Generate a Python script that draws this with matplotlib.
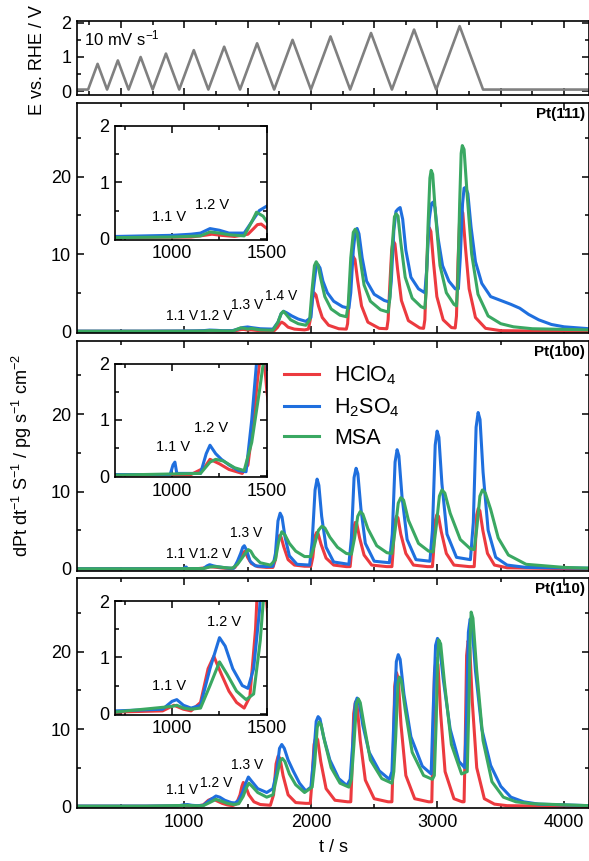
import matplotlib
matplotlib.use("Agg")
import matplotlib.pyplot as plt
from matplotlib.ticker import MultipleLocator

plt.rcParams['font.family'] = ['Liberation Sans', 'DejaVu Sans']
plt.rcParams['mathtext.fontset'] = 'custom'
plt.rcParams['mathtext.rm'] = 'Liberation Sans'
plt.rcParams['mathtext.it'] = 'Liberation Sans:italic'
plt.rcParams['mathtext.bf'] = 'Liberation Sans:bold'

# ---------------- data ----------------
E_time = [150, 240, 315, 390, 475, 560, 655, 750, 855, 960, 1075, 1190, 1315, 1440,
          1575, 1710, 1855, 2000, 2155, 2310, 2475, 2640, 2815, 2990, 3175, 3360, 4200]
E_volt = [0.05, 0.05, 0.8, 0.05, 0.9, 0.05, 1.0, 0.05, 1.1, 0.05, 1.2, 0.05, 1.3, 0.05,
          1.4, 0.05, 1.5, 0.05, 1.6, 0.05, 1.7, 0.05, 1.8, 0.05, 1.9, 0.05, 0.05]

series_labels = ['HClO$_4$', 'H$_2$SO$_4$', 'MSA']
series_colors = ['#ec3a3f', '#1f6fde', '#3aa862']
panel_names = ['Pt(111)', 'Pt(100)', 'Pt(110)']

# ---- Pt(111)
t111_red = [150, 700, 1100, 1170, 1210, 1260, 1330, 1400, 1430, 1450, 1470, 1500, 1530, 1580, 1650, 1710,
            1735, 1755, 1770, 1790, 1820, 1870, 1950,
            1980, 1995, 2010, 2025, 2040, 2060, 2090, 2140, 2220, 2280,
            2290, 2305, 2320, 2333, 2348, 2370, 2400, 2450, 2540, 2600,
            2610, 2625, 2638, 2650, 2664, 2685, 2715, 2770, 2860, 2890,
            2900, 2912, 2924, 2935, 2948, 2968, 2995, 3045, 3110, 3140,
            3150, 3162, 3175, 3187, 3200, 3220, 3250, 3300, 3380, 3500, 4200]
y111_red = [0.02, 0.02, 0.03, 0.06, 0.08, 0.06, 0.04, 0.08, 0.18, 0.25, 0.26, 0.18, 0.2, 0.12, 0.1, 0.1,
            0.5, 1.0, 1.2, 1.0, 0.55, 0.3, 0.2,
            0.3, 1.5, 4.0, 5.0, 4.7, 3.3, 1.8, 0.8, 0.35, 0.3,
            1.0, 5.0, 8.8, 9.7, 9.3, 6.5, 3.3, 1.2, 0.4, 0.35,
            1.5, 6.5, 10.5, 11.7, 11.3, 8.0, 4.0, 1.4, 0.45, 0.4,
            1.5, 7.0, 12.0, 13.4, 12.9, 9.0, 4.5, 1.5, 0.5, 0.45,
            2.0, 9.0, 14.5, 15.8, 15.3, 11.0, 5.5, 1.8, 0.4, 0.1, 0.0]
t111_blue = [150, 700, 1000, 1100, 1150, 1200, 1250, 1300, 1380, 1420, 1460, 1500, 1530, 1600, 1700, 1740,
             1765, 1785, 1810, 1850, 1900, 1960,
             2000, 2020, 2040, 2057, 2072, 2095, 2130, 2180, 2250, 2300,
             2315, 2335, 2352, 2365, 2380, 2405, 2440, 2500, 2580, 2620,
             2635, 2655, 2672, 2688, 2705, 2725, 2750, 2790, 2850, 2900,
             2915, 2935, 2952, 2965, 2980, 3005, 3040, 3090, 3140, 3165,
             3180, 3198, 3210, 3222, 3240, 3265, 3300, 3350, 3420, 3500, 3580, 3650, 3720, 3800, 3900,
             4000, 4200]
y111_blue = [0.04, 0.04, 0.06, 0.08, 0.1, 0.18, 0.15, 0.1, 0.1, 0.3, 0.5, 0.58, 0.5, 0.35, 0.3, 1.2,
             2.3, 2.6, 2.4, 2.0, 1.6, 1.3,
             1.8, 5.5, 8.2, 8.6, 8.2, 6.5, 5.0, 3.9, 3.2, 3.0,
             5.0, 10.5, 13.0, 13.3, 12.6, 9.5, 6.5, 4.8, 4.0, 3.8,
             6.5, 13.0, 15.5, 15.8, 16.0, 14.5, 10.5, 7.0, 5.5, 5.0,
             8.0, 14.5, 16.5, 16.7, 16.0, 12.0, 8.5, 6.5, 5.5, 5.5,
             9.5, 16.5, 18.5, 18.6, 17.8, 13.5, 9.0, 6.2, 4.5, 4.0, 3.5, 3.0, 2.2, 1.5, 0.9,
             0.6, 0.35]
t111_green = [150, 700, 1000, 1150, 1200, 1250, 1300, 1380, 1420, 1445, 1480, 1500, 1530, 1600, 1700, 1740,
              1765, 1782, 1800, 1840, 1900, 1960,
              1990, 2010, 2028, 2042, 2056, 2078, 2110, 2160, 2230, 2280,
              2295, 2315, 2335, 2350, 2365, 2388, 2420, 2470, 2550, 2610,
              2625, 2642, 2660, 2673, 2688, 2710, 2745, 2800, 2870, 2900,
              2910, 2925, 2940, 2950, 2962, 2985, 3020, 3070, 3130, 3150,
              3160, 3175, 3187, 3196, 3210, 3235, 3270, 3320, 3400, 3500, 3600, 3750, 4200]
y111_green = [0.02, 0.02, 0.03, 0.05, 0.12, 0.1, 0.07, 0.05, 0.3, 0.47, 0.4, 0.3, 0.4, 0.2, 0.15, 1.2,
              2.3, 2.6, 2.3, 1.5, 1.0, 0.8,
              1.5, 5.5, 8.5, 9.0, 8.6, 6.8, 4.5, 2.9, 2.1, 1.9,
              3.5, 9.5, 12.8, 13.2, 12.7, 9.5, 6.0, 3.9, 2.8, 2.5,
              4.5, 11.0, 14.8, 15.2, 14.9, 11.5, 7.0, 4.3, 3.2, 3.0,
              5.0, 13.5, 19.8, 20.8, 20.3, 15.0, 8.5, 5.0, 3.5, 3.3,
              6.0, 16.5, 23.0, 24.0, 23.5, 17.5, 10.0, 4.8, 2.0, 1.0, 0.6, 0.35, 0.2]

# ---- Pt(100)
t100_red = [150, 700, 1100, 1170, 1200, 1250, 1300, 1370, 1400, 1430, 1450, 1465, 1480, 1500, 1530, 1580,
            1650, 1700,
            1720, 1735, 1750, 1765, 1785, 1820, 1870, 1950, 2000,
            2015, 2032, 2045, 2058, 2080, 2120, 2180, 2280, 2310,
            2320, 2337, 2350, 2363, 2385, 2420, 2480, 2600, 2640,
            2648, 2662, 2675, 2688, 2710, 2750, 2810, 2920, 2960,
            2968, 2982, 2995, 3008, 3030, 3070, 3130, 3250, 3290,
            3298, 3310, 3322, 3335, 3358, 3395, 3450, 3550, 4200]
y100_red = [0.02, 0.02, 0.03, 0.15, 0.3, 0.22, 0.12, 0.05, 0.2, 1.0, 1.7, 2.1, 2.3, 1.5, 0.7, 0.3,
            0.2, 0.2,
            1.2, 3.5, 4.3, 4.1, 2.9, 1.2, 0.5, 0.35, 0.35,
            1.5, 4.2, 4.7, 4.5, 3.2, 1.4, 0.5, 0.3, 0.3,
            2.0, 5.3, 6.0, 5.8, 4.0, 1.8, 0.5, 0.3, 0.3,
            2.0, 6.0, 6.8, 6.6, 4.5, 2.0, 0.5, 0.3, 0.3,
            2.0, 6.2, 7.0, 6.8, 4.8, 2.0, 0.5, 0.3, 0.3,
            2.5, 7.0, 7.8, 7.5, 5.0, 2.0, 0.5, 0.15, 0.0]
t100_blue = [150, 700, 990, 1005, 1015, 1025, 1150, 1180, 1200, 1230, 1260, 1300, 1350, 1390, 1420, 1445,
             1462, 1474, 1490, 1520, 1560, 1650, 1700,
             1720, 1740, 1757, 1772, 1795, 1830, 1890, 1990,
             2010, 2033, 2049, 2063, 2085, 2120, 2180, 2300,
             2320, 2341, 2357, 2371, 2395, 2430, 2500, 2620,
             2643, 2665, 2681, 2695, 2720, 2760, 2830, 2940,
             2960, 2982, 2997, 3011, 3035, 3075, 3150, 3260,
             3283, 3305, 3321, 3336, 3360, 3400, 3460, 3550, 3700, 4200]
y100_blue = [0.03, 0.03, 0.03, 0.2, 0.25, 0.05, 0.05, 0.4, 0.55, 0.4, 0.3, 0.2, 0.1, 0.08, 1.0, 2.0,
             2.8, 3.0, 2.5, 1.0, 0.4, 0.3, 0.35,
             2.0, 6.2, 7.2, 6.7, 4.2, 1.7, 0.6, 0.5,
             3.5, 10.2, 11.6, 10.8, 6.8, 2.8, 0.9, 0.6,
             4.0, 11.8, 13.0, 12.3, 7.8, 3.3, 1.0, 0.8,
             4.5, 13.8, 15.4, 14.6, 9.3, 3.8, 1.2, 1.0,
             5.0, 16.0, 17.8, 17.0, 11.0, 4.5, 1.5, 1.2,
             6.0, 18.3, 20.2, 19.3, 12.5, 5.0, 1.5, 0.5, 0.2, 0.1]
t100_green = [150, 700, 1150, 1200, 1230, 1270, 1330, 1380, 1420, 1460, 1485, 1505, 1525, 1550, 1600, 1680,
              1720,
              1745, 1770, 1795, 1830, 1880, 1950, 2000,
              2030, 2060, 2086, 2110, 2150, 2210, 2280, 2320,
              2345, 2370, 2389, 2410, 2450, 2520, 2600, 2640,
              2665, 2690, 2710, 2732, 2770, 2850, 2930, 2965,
              2990, 3015, 3035, 3058, 3100, 3180, 3260, 3290,
              3312, 3335, 3355, 3378, 3420, 3480, 3560, 3700, 4000, 4200]
y100_green = [0.02, 0.02, 0.05, 0.25, 0.3, 0.27, 0.15, 0.1, 0.6, 1.5, 2.1, 2.5, 2.3, 1.6, 0.8, 0.5,
              1.2,
              3.5, 4.8, 4.4, 3.3, 2.3, 1.6, 1.6,
              3.2, 5.0, 5.5, 5.3, 4.1, 2.8, 2.0, 1.9,
              4.0, 6.8, 7.4, 7.1, 5.2, 3.0, 2.1, 2.0,
              5.0, 8.5, 9.2, 8.9, 6.3, 3.3, 2.3, 2.2,
              5.5, 9.4, 10.2, 9.8, 7.2, 3.8, 2.6, 2.5,
              5.5, 9.4, 10.2, 9.8, 7.7, 4.0, 1.8, 0.6, 0.2, 0.1]

# ---- Pt(110)
t110_red = [150, 700, 950, 1010, 1060, 1100, 1150, 1190, 1220, 1260, 1300, 1340, 1380, 1410, 1440, 1455,
            1466, 1480, 1510, 1550, 1600, 1680,
            1705, 1725, 1741, 1756, 1780, 1820, 1880, 1960, 1995,
            2005, 2025, 2040, 2054, 2078, 2120, 2190, 2290, 2315,
            2322, 2338, 2352, 2366, 2390, 2430, 2500, 2610, 2640,
            2648, 2662, 2676, 2690, 2712, 2750, 2820, 2930, 2955,
            2962, 2976, 2990, 3004, 3025, 3060, 3130, 3195, 3210,
            3218, 3230, 3242, 3255, 3275, 3310, 3370, 3450, 3550, 4200]
y110_red = [0.03, 0.03, 0.05, 0.15, 0.08, 0.05, 0.2, 0.8, 1.02, 0.7, 0.4, 0.2, 0.1, 0.3, 1.5, 2.6,
            3.1, 2.8, 1.5, 0.6, 0.25, 0.15,
            1.5, 5.5, 6.5, 6.2, 4.0, 1.5, 0.5, 0.4, 0.4,
            2.5, 8.0, 9.0, 8.6, 5.8, 2.3, 0.8, 0.6, 0.6,
            3.5, 12.0, 13.5, 12.9, 8.5, 3.4, 1.0, 0.6, 0.6,
            5.0, 15.5, 17.3, 16.5, 10.5, 4.0, 1.0, 0.6, 0.6,
            6.0, 17.3, 19.1, 18.3, 12.0, 4.5, 1.0, 0.6, 0.6,
            7.0, 19.5, 21.4, 20.5, 13.5, 5.0, 1.0, 0.3, 0.1, 0.0]
t110_blue = [150, 700, 950, 1000, 1025, 1060, 1100, 1150, 1200, 1250, 1280, 1320, 1370, 1400, 1430, 1460,
             1485, 1506, 1530, 1580, 1651, 1700,
             1730, 1752, 1770, 1790, 1820, 1860, 1910, 1960, 2000,
             2020, 2042, 2057, 2072, 2100, 2150, 2220, 2284, 2310,
             2330, 2350, 2365, 2380, 2410, 2460, 2540, 2620, 2640,
             2655, 2675, 2690, 2705, 2735, 2790, 2880, 2950,
             2965, 2985, 3000, 3015, 3045, 3100, 3170, 3215,
             3228, 3244, 3258, 3272, 3300, 3350, 3420, 3500, 3580, 3680, 3800, 4200]
y110_blue = [0.05, 0.05, 0.08, 0.22, 0.25, 0.15, 0.1, 0.15, 0.8, 1.35, 1.2, 0.8, 0.5, 0.45, 0.8, 1.8,
             3.0, 3.8, 3.3, 2.3, 1.8, 2.3,
             4.5, 7.5, 8.0, 7.5, 6.0, 4.6, 3.0, 2.0, 2.5,
             6.0, 11.0, 11.6, 11.3, 9.0, 6.0, 3.6, 2.7, 3.5,
             8.0, 13.3, 14.0, 13.6, 10.5, 7.0, 4.6, 3.5, 4.5,
             11.0, 18.7, 19.6, 19.0, 14.5, 9.0, 5.2, 4.2,
             12.0, 20.8, 21.7, 21.0, 16.5, 10.0, 5.8, 5.0,
             11.0, 22.5, 24.2, 23.5, 17.5, 10.0, 5.3, 2.6, 1.2, 0.6, 0.3, 0.1]
t110_green = [150, 700, 1000, 1025, 1060, 1100, 1150, 1200, 1250, 1290, 1340, 1390, 1430, 1465, 1490, 1510,
              1535, 1580, 1651, 1700,
              1735, 1757, 1775, 1795, 1830, 1880, 1950, 2010,
              2030, 2050, 2065, 2080, 2110, 2160, 2230, 2300, 2320,
              2340, 2360, 2375, 2390, 2420, 2470, 2560, 2640, 2655,
              2670, 2688, 2700, 2714, 2745, 2800, 2890, 2960,
              2975, 2990, 3000, 3010, 3025, 3055, 3110, 3190, 3235,
              3250, 3258, 3266, 3280, 3310, 3360, 3430, 3520, 3620, 3750, 4200]
y110_green = [0.03, 0.03, 0.13, 0.15, 0.1, 0.08, 0.1, 0.5, 0.92, 0.7, 0.4, 0.25, 0.35, 1.3, 2.4, 3.0,
              2.6, 1.8, 1.2, 1.5,
              4.2, 5.9, 6.2, 5.8, 4.2, 2.8, 1.8, 2.5,
              5.5, 10.2, 10.9, 10.6, 8.3, 5.0, 3.0, 2.5, 3.5,
              8.0, 13.3, 13.9, 13.4, 10.5, 6.0, 3.6, 3.0, 4.5,
              9.0, 16.0, 16.7, 16.2, 12.5, 7.0, 4.0, 3.5,
              4.0, 11.0, 18.5, 21.5, 21.0, 16.0, 8.0, 4.2, 4.5,
              14.5, 21.5, 25.1, 24.3, 17.5, 8.5, 3.2, 1.2, 0.6, 0.35, 0.1]

panel_data = [
    [(t111_red, y111_red), (t111_blue, y111_blue), (t111_green, y111_green)],
    [(t100_red, y100_red), (t100_blue, y100_blue), (t100_green, y100_green)],
    [(t110_red, y110_red), (t110_blue, y110_blue), (t110_green, y110_green)],
]

# annotation labels (text, t, value)
main_notes = [
    [('1.1 V', 986, 2.0), ('1.2 V', 1251, 2.0), ('1.3 V', 1500, 3.4), ('1.4 V', 1764, 4.6)],
    [('1.1 V', 979, 1.9), ('1.2 V', 1243, 1.9), ('1.3 V', 1486, 4.6)],
    [('1.1 V', 982, 2.1), ('1.2 V', 1251, 3.0), ('1.3 V', 1500, 5.4)],
]
inset_notes = [
    [('1.1 V', 986, 0.39), ('1.2 V', 1209, 0.59)],
    [('1.1 V', 1003, 0.52), ('1.2 V', 1203, 0.85)],
    [('1.1 V', 986, 0.50), ('1.2 V', 1272, 1.63)],
]

# ---------------- figure ----------------
W, H = 589, 861
fig = plt.figure(figsize=(W / 100, H / 100), dpi=100)

def px_axes(left, top, right, bottom):
    return fig.add_axes([left / W, 1 - bottom / H, (right - left) / W, (bottom - top) / H])

LEFT, RIGHT = 76.7, 589.4
lw = 2.2

def style(ax, major_len=5, minor_len=3):
    for s in ax.spines.values():
        s.set_linewidth(1.2)
    ax.tick_params(which='both', direction='in', top=True, right=True, width=1.1,
                   labelsize=13, pad=4)
    ax.tick_params(which='major', length=major_len)
    ax.tick_params(which='minor', length=minor_len)

# top potential panel
axE = px_axes(LEFT, 21, RIGHT, 94.7)
axE.plot(E_time, E_volt, color='#808080', lw=1.9)
axE.set_xlim(150, 4200)
axE.set_ylim(-0.1, 2.05)
axE.xaxis.set_major_locator(MultipleLocator(500))
axE.xaxis.set_minor_locator(MultipleLocator(250))
axE.yaxis.set_major_locator(MultipleLocator(1))
axE.yaxis.set_minor_locator(MultipleLocator(0.5))
axE.tick_params(labelbottom=False)
style(axE)
axE.text(0.014, 0.77, '10 mV s$^{-1}$', transform=axE.transAxes, fontsize=12, ha='left', va='center')
fig.text(37 / W, 1 - 60 / H, 'E vs. RHE / V', rotation=90, fontsize=13, ha='center', va='center')

tops = [103, 340.5, 578]
axes = []
for i, top in enumerate(tops):
    ax = px_axes(LEFT, top, RIGHT, top + 230)
    axes.append(ax)
    for (tt, yy), c, lab in zip(panel_data[i], series_colors, series_labels):
        ax.plot(tt, yy, color=c, lw=lw, label=lab, solid_joinstyle='round')
    ax.set_xlim(150, 4200)
    ax.set_ylim(-0.2, 29.5)
    ax.xaxis.set_major_locator(MultipleLocator(1000))
    ax.xaxis.set_minor_locator(MultipleLocator(500))
    ax.yaxis.set_major_locator(MultipleLocator(10))
    ax.yaxis.set_minor_locator(MultipleLocator(5))
    style(ax)
    if i < 2:
        ax.tick_params(labelbottom=False)
    ax.text(0.991, 0.952, panel_names[i], transform=ax.transAxes, fontsize=11,
            fontweight='bold', ha='right', va='center')
    for txt, tx, ty in main_notes[i]:
        ax.text(tx, ty, txt, fontsize=10, ha='center', va='center')

    ins = ax.inset_axes([0.075, 0.405, 0.296, 0.495])
    for (tt, yy), c in zip(panel_data[i], series_colors):
        ins.plot(tt, yy, color=c, lw=lw, solid_joinstyle='round')
    ins.set_xlim(700, 1500)
    ins.set_ylim(-0.02, 2.0)
    ins.xaxis.set_major_locator(MultipleLocator(500))
    ins.xaxis.set_minor_locator(MultipleLocator(250))
    ins.yaxis.set_major_locator(MultipleLocator(1))
    ins.yaxis.set_minor_locator(MultipleLocator(0.5))
    style(ins)
    for txt, tx, ty in inset_notes[i]:
        ins.text(tx, ty, txt, fontsize=10.5, ha='center', va='center')

axes[2].set_xlabel('t / s', fontsize=13, labelpad=6)
fig.text(22 / W, 1 - 455 / H, 'dPt dt$^{-1}$ S$^{-1}$ / pg s$^{-1}$ cm$^{-2}$', rotation=90,
         fontsize=13, ha='center', va='center')

axes[1].legend(loc='upper left', bbox_to_anchor=(0.405, 0.9), frameon=False, fontsize=15.5,
               handlelength=1.6, handletextpad=0.7, labelspacing=0.42, borderpad=0, borderaxespad=0)

fig.savefig('out.png', dpi=100)
